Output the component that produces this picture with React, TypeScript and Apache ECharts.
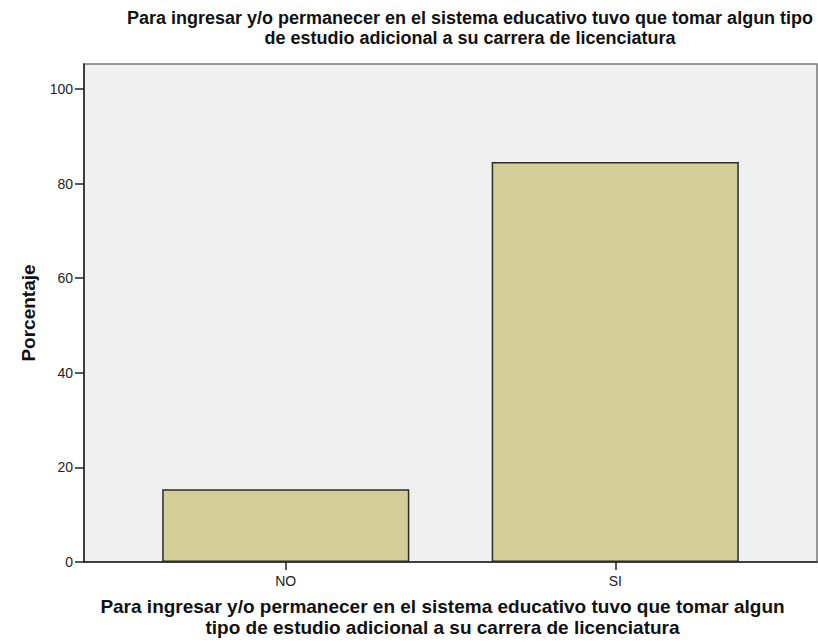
import React, { useEffect, useRef } from "react";
import * as echarts from "echarts";

const titleText =
  "Para ingresar y/o permanecer en el sistema educativo tuvo que tomar algun tipo\nde estudio adicional a su carrera de licenciatura";
const xAxisTitle =
  "Para ingresar y/o permanecer en el sistema educativo tuvo que tomar algun\ntipo de estudio adicional a su carrera de licenciatura";
const yAxisTitle = "Porcentaje";
const categories = ["NO", "SI"];
const percentages = [15.4, 84.6];
const yTickValues = [0, 20, 40, 60, 80, 100];
const yMax = 105.3;

const FONT = "'Liberation Sans', Arial, sans-serif";

export default function App() {
  const ref = useRef<HTMLDivElement>(null);

  useEffect(() => {
    document.body.style.margin = "0";
    if (!ref.current) return;
    const chart = echarts.init(ref.current, null, { renderer: "svg" });
    chart.setOption({
      animation: false,
      backgroundColor: "#ffffff",
      textStyle: { fontFamily: FONT },
      title: {
        text: titleText,
        left: 465,
        top: 3,
        textAlign: "center",
        textStyle: {
          fontFamily: FONT,
          fontWeight: "bold",
          fontSize: 18,
          lineHeight: 20,
          color: "#111",
        },
      },
      grid: [
        {
          left: 84,
          right: 1,
          top: 64,
          bottom: 82,
          show: true,
          backgroundColor: "#f0f0f0",
          borderColor: "#777777",
          borderWidth: 1.5,
        },
        { left: 121, right: 38, top: 64, bottom: 82 },
      ],
      xAxis: [
        {
          gridIndex: 0,
          type: "value",
          min: 0,
          max: 1,
          axisLine: { show: true, onZero: false, lineStyle: { color: "#222", width: 1.5 } },
          axisTick: { show: false },
          axisLabel: { show: false },
          splitLine: { show: false },
        },
        {
          gridIndex: 1,
          type: "category",
          data: categories,
          axisLine: { show: false },
          axisTick: { show: true, alignWithLabel: true, length: 8, lineStyle: { color: "#222", width: 1.5 } },
          axisLabel: { color: "#222", fontSize: 14, margin: 12, fontFamily: FONT },
          splitLine: { show: false },
          name: xAxisTitle,
          nameLocation: "middle",
          nameGap: 34,
          nameTextStyle: {
            fontFamily: FONT,
            fontWeight: "bold",
            fontSize: 19,
            lineHeight: 21,
            color: "#111",
            verticalAlign: "top",
            padding: [0, 16, 0, 0],
          },
        },
      ],
      yAxis: [
        {
          gridIndex: 0,
          type: "value",
          min: 0,
          max: yMax,
          interval: 20,
          axisLine: { show: true, lineStyle: { color: "#222", width: 1.5 } },
          axisTick: { show: true, length: 9, customValues: yTickValues, lineStyle: { color: "#222", width: 1.5 } },
          axisLabel: { color: "#222", fontSize: 14, margin: 11, customValues: yTickValues, fontFamily: FONT },
          splitLine: { show: false },
          name: yAxisTitle,
          nameLocation: "middle",
          nameGap: 46,
          nameTextStyle: {
            fontFamily: FONT,
            fontWeight: "bold",
            fontSize: 19,
            color: "#111",
          },
        },
        {
          gridIndex: 1,
          type: "value",
          min: 0,
          max: yMax,
          show: false,
        },
      ],
      series: [
        {
          type: "bar",
          xAxisIndex: 1,
          yAxisIndex: 1,
          data: percentages,
          barWidth: "75%",
          itemStyle: {
            color: "#d3ce97",
            borderColor: "#2b2b2b",
            borderWidth: 1.5,
          },
        },
      ],
    });
    return () => chart.dispose();
  }, []);

  return <div ref={ref} style={{ width: 818, height: 644 }} />;
}
